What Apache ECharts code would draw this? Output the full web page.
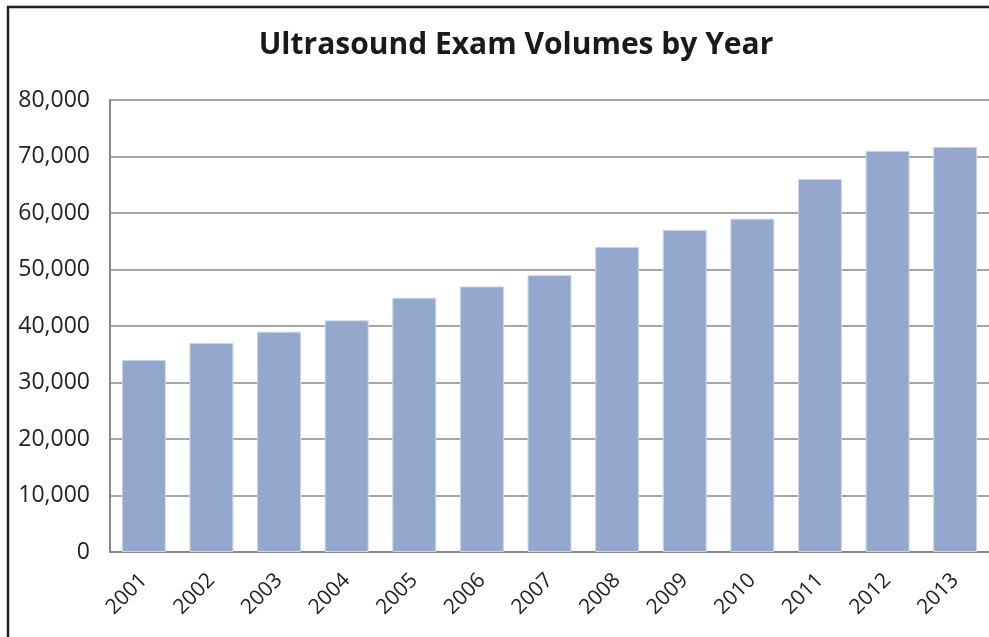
<!DOCTYPE html>
<html>
<head>
<meta charset="utf-8">
<script src="https://cdn.jsdelivr.net/npm/echarts@6/dist/echarts.min.js"></script>
<style>
html,body{margin:0;padding:0;background:#fff;}
#chart{width:989px;height:637px;}
</style>
</head>
<body>
<div id="chart"></div>
<script>
const years = ['2001','2002','2003','2004','2005','2006','2007','2008','2009','2010','2011','2012','2013'];
const volumes = [34000, 37000, 39000, 41000, 45000, 47000, 49000, 54000, 57000, 59000, 66000, 71000, 71700];
const titleText = 'Ultrasound Exam Volumes by Year';

const chart = echarts.init(document.getElementById('chart'));
chart.setOption({
  animation: false,
  backgroundColor: '#fff',
  title: {
    text: titleText,
    left: 511, textAlign: 'center', top: 25,
    textStyle: {fontFamily: 'Open Sans', fontWeight: 'bold', fontSize: 30, color: '#1a1a1a'}
  },
  graphic: [{
    type: 'rect', shape: {x: 8, y: 7, width: 1000, height: 700},
    style: {fill: 'none', stroke: '#222', lineWidth: 2.5}, z: 100
  }],
  grid: {left: 110, right: -1, top: 100, bottom: 85, containLabel: false},
  xAxis: {
    type: 'category', data: years,
    axisLine: {show: true, lineStyle: {color: '#888', width: 2}},
    axisTick: {show: false},
    axisLabel: {rotate: 45, fontFamily: 'Open Sans', fontSize: 21, color: '#222', margin: 25, interval: 0}
  },
  yAxis: {
    type: 'value', min: 0, max: 80000, interval: 10000,
    axisLine: {show: true, lineStyle: {color: '#888', width: 2}},
    axisTick: {show: false},
    splitLine: {lineStyle: {color: '#888', width: 1.5}},
    axisLabel: {
      fontFamily: 'Open Sans', fontSize: 23, color: '#222', margin: 20,
      formatter: v => v.toLocaleString('en-US')
    }
  },
  series: [{
    type: 'bar', data: volumes, barWidth: '65%',
    itemStyle: {color: '#93A8CC', borderColor: '#C9D5E8', borderWidth: 1}
  }]
});
</script>
</body>
</html>
